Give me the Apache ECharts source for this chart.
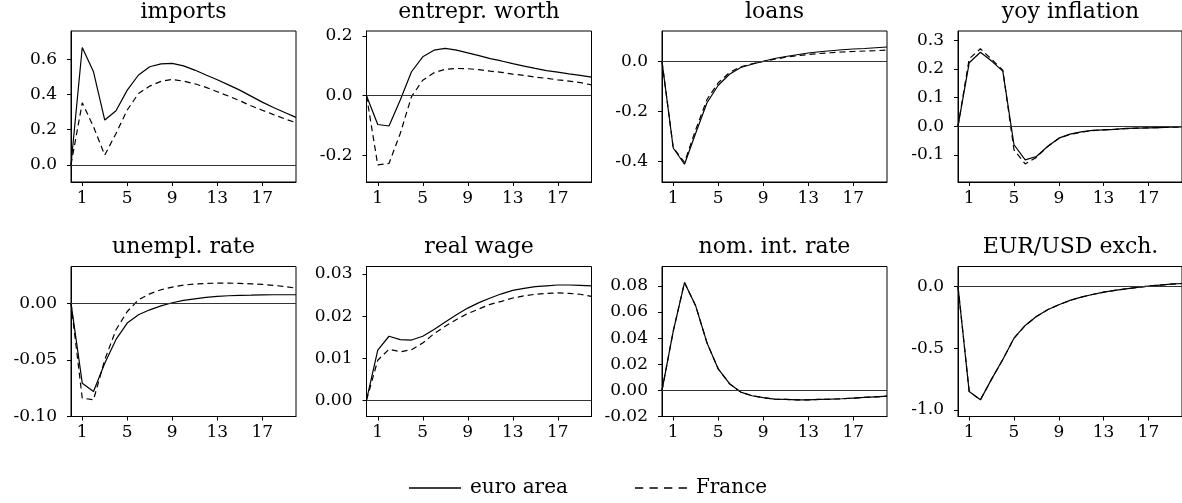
<!DOCTYPE html>
<html><head><meta charset="utf-8">
<script src="https://cdn.jsdelivr.net/npm/echarts@6/dist/echarts.min.js"></script>
<style>html,body{margin:0;padding:0;background:#fff}#c{width:1182px;height:503px}</style>
</head><body><div id="c"></div>
<script>
// ---------- data ----------
const periods = [0,1,2,3,4,5,6,7,8,9,10,11,12,13,14,15,16,17,18,19,20];
const xTicks = [1,5,9,13,17];
const seriesNames = ['euro area','France'];
const titles = ['imports','entrepr. worth','loans','yoy inflation','unempl. rate','real wage','nom. int. rate','EUR/USD exch.'];

const importsEA = [0,0.666,0.528,0.254,0.307,0.424,0.51,0.557,0.573,0.576,0.562,0.538,0.51,0.483,0.454,0.424,0.39,0.356,0.325,0.297,0.269];
const importsFR = [0,0.352,0.216,0.055,0.178,0.311,0.405,0.447,0.474,0.485,0.475,0.46,0.44,0.415,0.39,0.364,0.335,0.31,0.285,0.261,0.239];
const importsTicks = [0,0.2,0.4,0.6];

const worthEA = [0,-0.096,-0.101,-0.014,0.08,0.13,0.152,0.158,0.152,0.143,0.134,0.124,0.116,0.107,0.099,0.091,0.084,0.079,0.073,0.068,0.062];
const worthFR = [0,-0.231,-0.226,-0.126,-0.003,0.052,0.077,0.088,0.091,0.09,0.087,0.082,0.078,0.072,0.068,0.062,0.058,0.053,0.049,0.044,0.036];
const worthTicks = [-0.2,0,0.2];

const loansEA = [0,-0.346,-0.411,-0.286,-0.165,-0.095,-0.051,-0.024,-0.011,0.001,0.012,0.02,0.027,0.034,0.039,0.043,0.047,0.05,0.052,0.055,0.058];
const loansFR = [0,-0.345,-0.403,-0.272,-0.152,-0.085,-0.044,-0.021,-0.009,0,0.009,0.017,0.023,0.028,0.032,0.035,0.038,0.04,0.042,0.043,0.046];
const loansTicks = [-0.4,-0.2,0];

const inflEA = [0,0.221,0.258,0.227,0.192,-0.065,-0.118,-0.106,-0.071,-0.042,-0.028,-0.02,-0.015,-0.013,-0.011,-0.008,-0.007,-0.006,-0.005,-0.004,-0.003];
const inflFR = [0,0.235,0.27,0.233,0.195,-0.083,-0.132,-0.109,-0.071,-0.043,-0.029,-0.021,-0.016,-0.013,-0.011,-0.009,-0.007,-0.006,-0.005,-0.004,-0.003];
const inflTicks = [-0.1,0,0.1,0.2,0.3];

const unempEA = [0,-0.0706,-0.078,-0.053,-0.032,-0.0176,-0.0103,-0.0059,-0.0024,0.0003,0.0024,0.0038,0.005,0.0059,0.0065,0.0068,0.007,0.0073,0.0074,0.0074,0.0074];
const unempFR = [0,-0.0838,-0.0853,-0.05,-0.0235,-0.0074,0.0029,0.0082,0.0118,0.0141,0.0159,0.0168,0.0174,0.0176,0.0176,0.0174,0.017,0.0165,0.0156,0.0147,0.0132];
const unempTicks = [-0.1,-0.05,0];

const wageEA = [0,0.0119,0.0152,0.0144,0.0143,0.0152,0.0168,0.0186,0.0203,0.0219,0.0232,0.0243,0.0253,0.0261,0.0266,0.027,0.0272,0.0274,0.0274,0.0273,0.0272];
const wageFR = [0,0.0095,0.0121,0.0115,0.012,0.0136,0.0158,0.0176,0.0192,0.0206,0.0217,0.0228,0.0235,0.0243,0.0248,0.0252,0.0254,0.0255,0.0254,0.0252,0.0247];
const wageTicks = [0,0.01,0.02,0.03];

const rateEA = [0,0.0454,0.0826,0.0646,0.0364,0.0164,0.0051,-0.0013,-0.0041,-0.0056,-0.0067,-0.0069,-0.0072,-0.0072,-0.0069,-0.0067,-0.0064,-0.0059,-0.0054,-0.0049,-0.0044];
const rateFR = [0,0.0454,0.0826,0.0646,0.0364,0.0164,0.0051,-0.0013,-0.0041,-0.0056,-0.0067,-0.0069,-0.0072,-0.0072,-0.0069,-0.0067,-0.0064,-0.0059,-0.0054,-0.0049,-0.0044];
const rateTicks = [-0.02,0,0.02,0.04,0.06,0.08];

const fxEA = [0,-0.852,-0.919,-0.751,-0.592,-0.419,-0.316,-0.243,-0.189,-0.148,-0.113,-0.086,-0.065,-0.046,-0.032,-0.019,-0.008,0.003,0.011,0.019,0.024];
const fxFR = [0,-0.852,-0.919,-0.751,-0.592,-0.419,-0.316,-0.243,-0.189,-0.148,-0.113,-0.086,-0.065,-0.046,-0.032,-0.019,-0.008,0.003,0.011,0.019,0.024];
const fxTicks = [-1,-0.5,0];

// ---------- panel config ----------
const panels = [
  {ea: importsEA, fr: importsFR, ticks: importsTicks, dec: 1, min: -0.098, max: 0.76},
  {ea: worthEA,   fr: worthFR,   ticks: worthTicks,   dec: 1, min: -0.288, max: 0.216},
  {ea: loansEA,   fr: loansFR,   ticks: loansTicks,   dec: 1, min: -0.482, max: 0.122},
  {ea: inflEA,    fr: inflFR,    ticks: inflTicks,    dec: 1, min: -0.195, max: 0.332},
  {ea: unempEA,   fr: unempFR,   ticks: unempTicks,   dec: 2, min: -0.1,   max: 0.0323},
  {ea: wageEA,    fr: wageFR,    ticks: wageTicks,    dec: 2, min: -0.0039, max: 0.0318},
  {ea: rateEA,    fr: rateFR,    ticks: rateTicks,    dec: 2, min: -0.02,  max: 0.0949},
  {ea: fxEA,      fr: fxFR,      ticks: fxTicks,      dec: 1, min: -1.054, max: 0.162}
];

const FONT = 'DejaVu Serif';
const lefts = [71, 366.5, 662, 958];
const tops = [31, 266.5];
const W = 225;
const H = [151, 150];

const option = {
  animation: false,
  backgroundColor: '#fff',
  color: ['#000'],
  textStyle: {fontFamily: FONT},
  title: [], grid: [], xAxis: [], yAxis: [], series: [],
  legend: {
    data: [
      {name: seriesNames[0], icon: 'path://M0,0H52V1.4H0Z'},
      {name: seriesNames[1], icon: 'path://M0,0H8V1.4H0Z M14,0H22V1.4H14Z M28,0H36V1.4H28Z M42,0H50V1.4H42Z'}
    ],
    left: 409, top: 478, padding: 0, itemWidth: 52, itemHeight: 14, itemGap: 67,
    itemStyle: {color: '#000', borderWidth: 0},
    textStyle: {fontFamily: FONT, fontSize: 20, color: '#000', padding: [0,0,0,4]}
  }
};

panels.forEach((p, i) => {
  const r = Math.floor(i / 4), c = i % 4;
  option.grid.push({left: lefts[c], top: tops[r], width: W, height: H[r], show: true,
    borderColor: '#000', borderWidth: 1, backgroundColor: 'transparent'});
  option.title.push({text: titles[i], left: lefts[c] + W / 2, top: tops[r] - 30, textAlign: 'center', padding: 0,
    textStyle: {fontFamily: FONT, fontSize: 22, fontWeight: 'normal', color: '#000'}});
  option.xAxis.push({gridIndex: i, type: 'value', min: 0, max: 20,
    axisLine: {show: true, onZero: false, lineStyle: {color: '#000', width: 1}},
    axisTick: {show: true, customValues: xTicks, length: 4, lineStyle: {color: '#000'}},
    axisLabel: {customValues: xTicks, fontFamily: FONT, fontSize: 17, color: '#000', margin: 8},
    splitLine: {show: false}});
  option.yAxis.push({gridIndex: i, type: 'value', min: p.min, max: p.max,
    axisLine: {show: true, onZero: false, lineStyle: {color: '#000', width: 1}},
    axisTick: {show: true, customValues: p.ticks, length: 4, lineStyle: {color: '#000'}},
    axisLabel: {customValues: p.ticks, fontFamily: FONT, fontSize: 17, color: '#000', margin: 14,
      formatter: v => Number(v).toFixed(p.dec)},
    splitLine: {show: false}});
  option.series.push({name: seriesNames[1], type: 'line', xAxisIndex: i, yAxisIndex: i,
    data: periods.map((x, k) => [x, p.fr[k]]), symbol: 'none', silent: true,
    itemStyle: {color: '#000'},
    lineStyle: {color: '#000', width: 1.2, type: [6, 4]}, z: 2});
  option.series.push({name: seriesNames[0], type: 'line', xAxisIndex: i, yAxisIndex: i,
    data: periods.map((x, k) => [x, p.ea[k]]), symbol: 'none', silent: true,
    itemStyle: {color: '#000'},
    lineStyle: {color: '#000', width: 1.2, type: 'solid'}, z: 3,
    markLine: {silent: true, symbol: 'none', label: {show: false},
      lineStyle: {color: '#333', width: 1, type: 'solid'}, data: [{yAxis: 0}]}});
});

const chart = echarts.init(document.getElementById('c'), null, {renderer: 'canvas'});
chart.setOption(option);
</script>
</body></html>
